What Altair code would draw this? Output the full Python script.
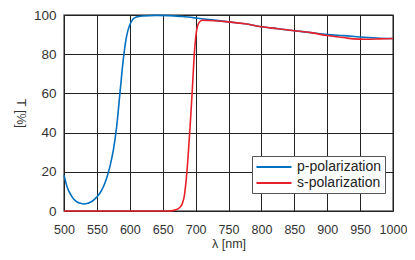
import altair as alt
import pandas as pd

wl_p = [500, 505, 510, 515, 520, 525, 530, 535, 540, 545, 550, 555, 560, 565, 570, 575,
        580, 585, 590, 595, 600, 605, 610, 620, 640, 660, 680, 700, 725, 750, 775, 800,
        825, 850, 875, 900, 925, 950, 975, 1000]
t_p = [18.3, 12, 8.5, 6, 4.6, 3.9, 3.6, 3.8, 4.5, 5.6, 7.2, 9.3, 12.5, 17, 23, 31,
       43, 60, 77, 89, 95, 98, 99, 99.5, 99.8, 99.7, 99.2, 98.5, 97.5, 96.5, 95.5, 94,
       93, 92, 91, 90, 89.5, 88.8, 88.3, 88]

wl_s = [500, 550, 600, 650, 660, 665, 670, 675, 680, 683, 686, 688, 690, 692, 694, 696,
        698, 700, 702, 705, 710, 720, 750, 775, 800, 825, 850, 875, 900, 925, 940, 960,
        980, 1000]
t_s = [0, 0, 0, 0, 0, 0.2, 0.6, 1.5, 4, 8, 17, 25, 35, 45, 56, 68,
       80, 88, 93, 96, 97.3, 97.2, 96.5, 95.5, 94, 93, 92, 91, 89.5, 88.5, 87.8, 87.6,
       87.8, 88]

series = ["p-polarization", "s-polarization"]
colors = ["#0070C0", "#E8202A"]

df = pd.concat([
    pd.DataFrame({"wl": wl_p, "T": t_p, "pol": series[0], "o": range(len(wl_p))}),
    pd.DataFrame({"wl": wl_s, "T": t_s, "pol": series[1], "o": range(len(wl_s))}),
])

chart = alt.Chart(df).mark_line(strokeWidth=1.6, interpolate="monotone").encode(
    x=alt.X("wl:Q", scale=alt.Scale(domain=[500, 1000], nice=False),
            axis=alt.Axis(values=list(range(500, 1001, 50)), title="λ [nm]", format="d",
                          labelOverlap=False, labelFlush=False, labelFontSize=12.5,
                          labelPadding=12, titlePadding=2)),
    y=alt.Y("T:Q", scale=alt.Scale(domain=[0, 100], nice=False),
            axis=alt.Axis(values=list(range(0, 101, 20)), title="T [%]",
                          titleAngle=90, titleBaseline="top", titlePadding=7,
                          labelFontSize=13.5, labelPadding=8)),
    color=alt.Color("pol:N", scale=alt.Scale(domain=series, range=colors),
                    legend=alt.Legend(title=None, orient="none", legendX=188, legendY=141,
                                      symbolType="M-2.5,0H2.5", symbolSize=196,
                                      symbolOffset=11, symbolStrokeWidth=2,
                                      fillColor="white", strokeColor="#555", padding=3,
                                      labelFontSize=14, labelOffset=15,
                                      labelColor="#222", rowPadding=1)),
    order="o:Q",
).properties(
    width=329, height=196,
    autosize=alt.AutoSizeParams(type="none"),
    padding={"left": 56, "top": 7, "right": 14, "bottom": 41},
).configure_view(
    stroke="#666", strokeWidth=1.5
).configure_axis(
    grid=True, gridColor="#222", gridWidth=1, gridOpacity=1,
    domain=False, ticks=False, labelFont="Liberation Sans", titleFont="Liberation Sans",
    titleFontSize=12.5, labelColor="#333", titleColor="#333",
    titleFontWeight="normal",
).configure_legend(labelFont="Liberation Sans")

chart.save("out.html", embed_options={"renderer": "svg", "actions": False})
